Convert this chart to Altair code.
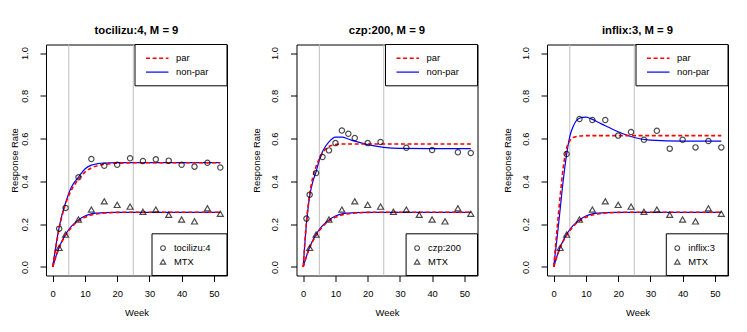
import altair as alt
import pandas as pd

# ---------------- data ----------------
titles = ["tocilizu:4, M = 9", "czp:200, M = 9", "inflix:3, M = 9"]
trt_names = ["tocilizu:4", "czp:200", "inflix:3"]
vline_weeks = [5, 25]
line_labels = ["par", "non-par"]

mtx_weeks = [2, 4, 8, 12, 16, 20, 24, 28, 32, 36, 40, 44, 48, 52]
mtx_rate = [0.089, 0.151, 0.222, 0.268, 0.307, 0.290, 0.282, 0.258, 0.268, 0.244, 0.222, 0.213, 0.274, 0.249]

toci_weeks = [2, 4, 8, 12, 16, 20, 24, 28, 32, 36, 40, 44, 48, 52]
toci_rate = [0.179, 0.276, 0.419, 0.505, 0.473, 0.478, 0.508, 0.495, 0.503, 0.497, 0.478, 0.469, 0.487, 0.465]

czp_weeks = [1, 2, 4, 6, 8, 10, 12, 14, 16, 20, 24, 32, 40, 48, 52]
czp_rate = [0.226, 0.338, 0.439, 0.514, 0.545, 0.579, 0.638, 0.623, 0.603, 0.579, 0.584, 0.557, 0.547, 0.536, 0.533]

inflix_weeks = [4, 8, 12, 16, 20, 24, 28, 32, 36, 40, 44, 48, 52]
inflix_rate = [0.528, 0.692, 0.687, 0.687, 0.614, 0.631, 0.595, 0.637, 0.553, 0.595, 0.559, 0.589, 0.559]

curve_weeks = [0, 1, 2, 3, 4, 5, 6, 8, 10, 12, 14, 16, 20, 25, 30, 40, 52]
mtx_nonpar = [0, 0.050, 0.092, 0.125, 0.152, 0.175, 0.193, 0.220, 0.238, 0.248, 0.252, 0.254, 0.255, 0.255, 0.255, 0.255, 0.255]
mtx_par = [0, 0.048, 0.090, 0.122, 0.148, 0.170, 0.188, 0.215, 0.232, 0.243, 0.249, 0.252, 0.255, 0.256, 0.256, 0.256, 0.256]
toci_nonpar = [0, 0.100, 0.185, 0.250, 0.300, 0.345, 0.378, 0.420, 0.458, 0.476, 0.483, 0.486, 0.488, 0.488, 0.488, 0.488, 0.488]
toci_par = [0, 0.095, 0.180, 0.245, 0.295, 0.335, 0.365, 0.410, 0.443, 0.463, 0.474, 0.480, 0.485, 0.487, 0.487, 0.487, 0.487]
czp_nonpar = [0, 0.200, 0.330, 0.400, 0.445, 0.500, 0.540, 0.585, 0.607, 0.607, 0.598, 0.588, 0.572, 0.559, 0.554, 0.553, 0.553]
czp_par = [0, 0.210, 0.340, 0.420, 0.470, 0.505, 0.533, 0.563, 0.572, 0.575, 0.575, 0.575, 0.575, 0.575, 0.575, 0.575, 0.575]
inflix_nonpar = [0, 0.130, 0.270, 0.410, 0.525, 0.610, 0.655, 0.695, 0.700, 0.690, 0.675, 0.660, 0.632, 0.605, 0.593, 0.588, 0.588]
inflix_par = [0, 0.170, 0.330, 0.470, 0.555, 0.590, 0.605, 0.612, 0.614, 0.614, 0.614, 0.614, 0.614, 0.614, 0.614, 0.614, 0.614]

trt_weeks = [toci_weeks, czp_weeks, inflix_weeks]
trt_rates = [toci_rate, czp_rate, inflix_rate]
trt_nonpar = [toci_nonpar, czp_nonpar, inflix_nonpar]
trt_par = [toci_par, czp_par, inflix_par]

# ---------------- layout / style ----------------
FONT = "Liberation Sans"
FS = 9.4
W, H = 181, 231
RED, BLUE, GREY = "#FF0000", "#0000FF", "#BEBEBE"
TOP_LEG_W, TOP_LEG_H = 92, 41.3
BOT_LEG_W = [75, 71.4, 61.7]
BOT_LEG_H = 41.7
Y_TITLE_PAD = [0, 8, 8]

xscale = alt.Scale(domain=[-2.08, 54.08], nice=False, zero=False)
yscale = alt.Scale(domain=[-0.04, 1.04], nice=False, zero=False)


def panel(i):
    xaxis = alt.Axis(values=[0, 10, 20, 30, 40, 50], title="Week", grid=False, domain=False,
                     tickSize=6, tickColor="black", labelPadding=14.5, labelBaseline="alphabetic",
                     labelFontSize=FS, labelColor="black", labelFont=FONT,
                     titleFontSize=FS, titleFontWeight="normal", titleColor="black", titleFont=FONT,
                     titleBaseline="alphabetic", titleY=40)
    yaxis = alt.Axis(values=[0, 0.2, 0.4, 0.6, 0.8, 1.0], format=".1f", title="Response Rate",
                     grid=False, domain=False, tickSize=6, tickColor="black",
                     labelAngle=270, labelAlign="center", labelBaseline="alphabetic", labelPadding=13,
                     labelFontSize=FS, labelColor="black", labelFont=FONT,
                     titleFontSize=FS, titleFontWeight="normal", titleColor="black", titleFont=FONT,
                     titlePadding=Y_TITLE_PAD[i])
    X = alt.X("week:Q", scale=xscale, axis=xaxis)
    Y = alt.Y("rate:Q", scale=yscale, axis=yaxis)

    vdf = pd.DataFrame({"week": vline_weeks})
    vrules = alt.Chart(vdf).mark_rule(color=GREY, strokeWidth=1).encode(
        x=X, y=alt.value(0), y2=alt.value(H),
    )
    # carrier for the y axis (invisible)
    ycarrier = alt.Chart(pd.DataFrame({"week": [0], "rate": [0]})).mark_point(opacity=0).encode(
        x=X, y=Y,
    )

    cdf = pd.DataFrame({
        "week": curve_weeks * 4,
        "rate": trt_nonpar[i] + mtx_nonpar + trt_par[i] + mtx_par,
        "method": ["non-par"] * (2 * len(curve_weeks)) + ["par"] * (2 * len(curve_weeks)),
        "group": (["trt"] * len(curve_weeks) + ["mtx"] * len(curve_weeks)) * 2,
    })
    blue = alt.Chart(cdf).transform_filter(alt.datum.method == "non-par").mark_line(
        color=BLUE, strokeWidth=1.2, interpolate="monotone").encode(
        x=X, y=Y, detail="group:N",
    )
    red = alt.Chart(cdf).transform_filter(alt.datum.method == "par").mark_line(
        color=RED, strokeWidth=1.6, strokeDash=[4, 2.6], interpolate="monotone").encode(
        x=X, y=Y, detail="group:N",
    )

    tdf = pd.DataFrame({"week": trt_weeks[i], "rate": trt_rates[i]})
    circles = alt.Chart(tdf).mark_point(shape="circle", filled=False, color="black",
                                        size=28, strokeWidth=1.2).encode(x=X, y=Y)
    mdf = pd.DataFrame({"week": mtx_weeks, "rate": mtx_rate})
    triangles = alt.Chart(mdf).mark_point(shape="triangle-up", filled=False, color="black",
                                          size=36, strokeWidth=1.2).encode(x=X, y=Y)

    one = pd.DataFrame({"k": [0]})
    # top-right legend
    tl = W - TOP_LEG_W
    top_box = alt.Chart(one).mark_rect(fill="white", stroke="black", strokeWidth=1).encode(
        x=alt.value(tl), x2=alt.value(W), y=alt.value(0), y2=alt.value(TOP_LEG_H))
    row1, row2 = 13.7, 27.6
    leg_par = alt.Chart(one).mark_rule(color=RED, strokeWidth=1.6, strokeDash=[4, 2.6]).encode(
        x=alt.value(tl + 11), x2=alt.value(tl + 33.5), y=alt.value(row1))
    leg_np = alt.Chart(one).mark_rule(color=BLUE, strokeWidth=1.2).encode(
        x=alt.value(tl + 11), x2=alt.value(tl + 33.5), y=alt.value(row2))
    lab_df = pd.DataFrame({"label": line_labels})
    lab1 = alt.Chart(lab_df).transform_filter(alt.datum.label == line_labels[0]).mark_text(
        align="left", baseline="middle", font=FONT, fontSize=FS, color="black").encode(
        x=alt.value(tl + 41), y=alt.value(row1), text="label:N")
    lab2 = alt.Chart(lab_df).transform_filter(alt.datum.label == line_labels[1]).mark_text(
        align="left", baseline="middle", font=FONT, fontSize=FS, color="black").encode(
        x=alt.value(tl + 41), y=alt.value(row2), text="label:N")

    # bottom-right legend
    bl = W - BOT_LEG_W[i]
    bt = H - BOT_LEG_H
    bot_box = alt.Chart(one).mark_rect(fill="white", stroke="black", strokeWidth=1).encode(
        x=alt.value(bl), x2=alt.value(W), y=alt.value(bt), y2=alt.value(H))
    sym_df = pd.DataFrame({"label": [trt_names[i], "MTX"]})
    s1 = alt.Chart(sym_df).transform_filter(alt.datum.label == trt_names[i]).mark_point(
        shape="circle", filled=False, color="black", size=22, strokeWidth=1.1).encode(
        x=alt.value(bl + 11), y=alt.value(bt + 14.3))
    s2 = alt.Chart(sym_df).transform_filter(alt.datum.label == "MTX").mark_point(
        shape="triangle-up", filled=False, color="black", size=30, strokeWidth=1.1).encode(
        x=alt.value(bl + 11), y=alt.value(bt + 28))
    t1 = alt.Chart(sym_df).transform_filter(alt.datum.label == trt_names[i]).mark_text(
        align="left", baseline="middle", font=FONT, fontSize=FS, color="black").encode(
        x=alt.value(bl + 22), y=alt.value(bt + 14.3), text="label:N")
    t2 = alt.Chart(sym_df).transform_filter(alt.datum.label == "MTX").mark_text(
        align="left", baseline="middle", font=FONT, fontSize=FS, color="black").encode(
        x=alt.value(bl + 22), y=alt.value(bt + 28), text="label:N")

    return alt.layer(
        vrules, ycarrier, blue, red, circles, triangles,
        top_box, leg_par, leg_np, lab1, lab2,
        bot_box, s1, s2, t1, t2,
    ).properties(
        width=W, height=H,
        title=alt.Title(titles[i], font=FONT, fontSize=11.3, fontWeight="bold", color="black",
                        baseline="alphabetic", offset=-1.3, anchor="middle", frame="group"),
    )


chart = alt.hconcat(panel(0), panel(1), panel(2), spacing=22.5).properties(
    padding={"left": 0, "top": 16.5, "right": 0, "bottom": 0},
).configure(font=FONT).configure_view(stroke="black", strokeWidth=1)

chart.save("out.html", embed_options={"renderer": "svg", "actions": False})
